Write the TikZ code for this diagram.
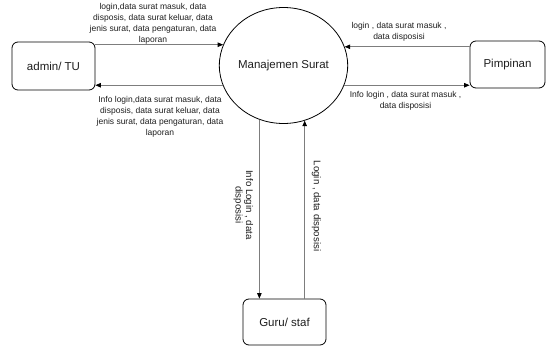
\documentclass[tikz,border=0pt]{standalone}
\usepackage{fontspec}
\setmainfont{Liberation Sans}
\usetikzlibrary{shapes.geometric,arrows.meta}
\definecolor{linegray}{RGB}{125,125,125}
\definecolor{txt}{RGB}{30,30,30}
\tikzset{
  entity/.style={draw=black, line width=0.8pt, rounded corners=6pt, inner sep=0pt,
    font=\fontsize{11.5}{13}\selectfont, text=txt},
  proc/.style={ellipse, draw=black, line width=0.8pt, inner sep=0pt,
    minimum width=104pt, minimum height=116pt, font=\fontsize{11.5}{13}\selectfont, text=txt},
  flow/.style={draw=linegray, line width=0.8pt, -{Triangle[length=5.5pt,width=4.5pt,color=black]}},
  lbl/.style={align=center, inner sep=0pt, text=txt, font=\fontsize{8.5}{11}\selectfont},
  vlbl/.style={align=center, inner sep=0pt, text=txt, rotate=-90, font=\fontsize{9.7}{10.5}\selectfont}
}
\begin{document}
\begin{tikzpicture}[x=1pt,y=1pt]
\useasboundingbox (0,0) rectangle (547,349);
\node[entity, minimum width=83pt, minimum height=48pt] (admin) at (53.5,283) {admin/ TU};
\node[entity, minimum width=75pt, minimum height=47pt] (pimp) at (507.5,284.5) {Pimpinan};
\node[proc] (m) at (283.5,283.5) {Manajemen Surat};
\node[entity, minimum width=83pt, minimum height=46pt] (guru) at (284.5,27) {Guru/ staf};

\coordinate (a1) at (m.161.7);
\coordinate (a2) at (m.198.3);
\coordinate (p1) at (m.17.2);
\coordinate (p2) at (m.-18.3);
\coordinate (g1) at (m.246.7);
\coordinate (g2) at (m.291);

\draw[flow] (a1 -| admin.east) -- (a1);
\draw[flow] (a2) -- (a2 -| admin.east);
\draw[flow] (p1 -| pimp.west) -- (p1);
\draw[flow] (p2) -- (p2 -| pimp.west);
\draw[flow] (g1) -- (g1 |- guru.north);
\draw[flow] (g2 |- guru.north) -- (g2);

\node[lbl] (l1) at (153,325) {login,data surat masuk, data\\disposis, data surat keluar, data\\jenis surat, data pengaturan, data\\laporan};
\node[lbl] (l2) at (160,232.5) {Info login,data surat masuk, data\\disposis, data surat keluar, data\\jenis surat, data pengaturan, data\\laporan};
\node[lbl] (l3) at (399,317) {login , data surat masuk ,\\data disposisi};
\node[lbl] (l4) at (405.5,248) {Info login , data surat masuk ,\\data disposisi};
\node[vlbl] (l5) at (243.5,144) {Info Login , data\\disposisi};
\node[vlbl] (l6) at (316.5,143) {Login , data disposisi};
\end{tikzpicture}
\end{document}
